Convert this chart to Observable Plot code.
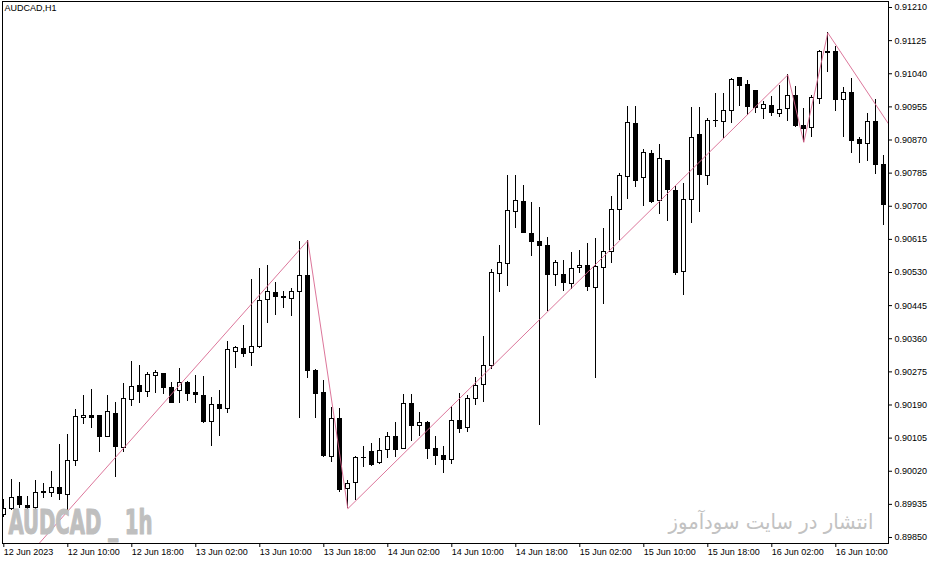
<!DOCTYPE html>
<html>
<head>
<meta charset="utf-8">
<script src="https://cdn.jsdelivr.net/npm/d3@7"></script>
<script src="https://cdn.jsdelivr.net/npm/@observablehq/plot@0.6"></script>
<style>
  html, body { margin: 0; padding: 0; background: #fff; }
  #chart { width: 935px; height: 563px; }
</style>
</head>
<body>
<div id="chart"></div>
<script>
// AUDCAD H1, bars from 12 Jun 2023 02:00 (bar 0) onward
const open = [
  0.89909, 0.89924, 0.89953, 0.89932, 0.89926, 0.89968, 0.89964, 0.89978, 0.89959, 0.90046,
  0.90156, 0.90163, 0.90161, 0.90107, 0.90168, 0.90080, 0.90203, 0.90238, 0.90223, 0.90264,
  0.90270, 0.90234, 0.90226, 0.90247, 0.90221, 0.90214, 0.90147, 0.90189, 0.90180, 0.90327,
  0.90334, 0.90324, 0.90339, 0.90460, 0.90478, 0.90468, 0.90462, 0.90479, 0.90522, 0.90276,
  0.90220, 0.90057, 0.90153, 0.89975, 0.89990, 0.90055, 0.90070, 0.90041, 0.90075, 0.90107,
  0.90078, 0.90193, 0.90137, 0.90144, 0.90078, 0.90060, 0.90049, 0.90148, 0.90132, 0.90206,
  0.90242, 0.90290, 0.90527, 0.90552, 0.90685, 0.90711, 0.90629, 0.90607, 0.90599, 0.90524,
  0.90524, 0.90501, 0.90542, 0.90547, 0.90491, 0.90542, 0.90583, 0.90691, 0.90775, 0.90912,
  0.90773, 0.90835, 0.90714, 0.90815, 0.90740, 0.90531, 0.90717, 0.90883, 0.90778, 0.90919,
  0.90917, 0.90945, 0.91028, 0.91012, 0.90996, 0.90950, 0.90956, 0.90936, 0.90950, 0.90982,
  0.90905, 0.90901, 0.90976, 0.91097, 0.91097, 0.90972, 0.90991, 0.90871, 0.90860, 0.90917,
  0.90806
];
const high = [
  0.89947, 0.89998, 0.89990, 0.89956, 0.89996, 0.89988, 0.90019, 0.90089, 0.90114, 0.90178,
  0.90214, 0.90230, 0.90161, 0.90214, 0.90196, 0.90246, 0.90302, 0.90291, 0.90273, 0.90279,
  0.90272, 0.90247, 0.90284, 0.90250, 0.90266, 0.90263, 0.90209, 0.90227, 0.90353, 0.90340,
  0.90394, 0.90512, 0.90540, 0.90548, 0.90504, 0.90482, 0.90489, 0.90610, 0.90612, 0.90280,
  0.90253, 0.90184, 0.90182, 0.89996, 0.90057, 0.90084, 0.90090, 0.90103, 0.90119, 0.90145,
  0.90218, 0.90218, 0.90170, 0.90148, 0.90108, 0.90084, 0.90186, 0.90219, 0.90214, 0.90260,
  0.90366, 0.90538, 0.90599, 0.90779, 0.90779, 0.90753, 0.90709, 0.90696, 0.90619, 0.90561,
  0.90561, 0.90581, 0.90587, 0.90604, 0.90617, 0.90642, 0.90725, 0.90784, 0.90956, 0.90956,
  0.90846, 0.90843, 0.90858, 0.90817, 0.90751, 0.90758, 0.90953, 0.90953, 0.90924, 0.90990,
  0.90990, 0.91028, 0.91030, 0.91023, 0.90997, 0.90969, 0.90982, 0.91010, 0.91037, 0.91007,
  0.90950, 0.90984, 0.91100, 0.91145, 0.91111, 0.91004, 0.91027, 0.90876, 0.90937, 0.90974,
  0.90830
];
const low = [
  0.89901, 0.89919, 0.89924, 0.89919, 0.89919, 0.89949, 0.89953, 0.89945, 0.89919, 0.90032,
  0.90140, 0.90130, 0.90069, 0.90107, 0.90005, 0.90069, 0.90187, 0.90193, 0.90209, 0.90220,
  0.90217, 0.90195, 0.90193, 0.90200, 0.90193, 0.90142, 0.90084, 0.90110, 0.90169, 0.90284,
  0.90313, 0.90290, 0.90336, 0.90400, 0.90420, 0.90437, 0.90418, 0.90156, 0.90257, 0.90155,
  0.90054, 0.90043, 0.89966, 0.89924, 0.89945, 0.90029, 0.90033, 0.90037, 0.90052, 0.90056,
  0.90078, 0.90097, 0.90109, 0.90049, 0.90036, 0.90014, 0.90037, 0.90118, 0.90120, 0.90189,
  0.90197, 0.90281, 0.90479, 0.90495, 0.90642, 0.90629, 0.90572, 0.90137, 0.90430, 0.90494,
  0.90481, 0.90486, 0.90528, 0.90482, 0.90259, 0.90448, 0.90554, 0.90612, 0.90717, 0.90749,
  0.90699, 0.90708, 0.90678, 0.90662, 0.90522, 0.90471, 0.90657, 0.90685, 0.90753, 0.90901,
  0.90873, 0.90912, 0.90956, 0.90933, 0.90937, 0.90922, 0.90931, 0.90929, 0.90918, 0.90903,
  0.90864, 0.90877, 0.90961, 0.91044, 0.90944, 0.90877, 0.90836, 0.90809, 0.90815, 0.90781,
  0.90651
];
const close = [
  0.89924, 0.89952, 0.89934, 0.89926, 0.89965, 0.89964, 0.89978, 0.89961, 0.90047, 0.90158,
  0.90162, 0.90157, 0.90107, 0.90171, 0.90082, 0.90206, 0.90237, 0.90223, 0.90267, 0.90273,
  0.90233, 0.90195, 0.90247, 0.90219, 0.90215, 0.90146, 0.90189, 0.90180, 0.90330, 0.90335,
  0.90320, 0.90339, 0.90457, 0.90480, 0.90468, 0.90465, 0.90480, 0.90522, 0.90277, 0.90218,
  0.90059, 0.90155, 0.89973, 0.89988, 0.90055, 0.90054, 0.90036, 0.90072, 0.90107, 0.90075,
  0.90193, 0.90136, 0.90144, 0.90078, 0.90060, 0.90049, 0.90150, 0.90128, 0.90206, 0.90239,
  0.90291, 0.90529, 0.90555, 0.90688, 0.90714, 0.90631, 0.90608, 0.90598, 0.90523, 0.90555,
  0.90504, 0.90538, 0.90547, 0.90492, 0.90545, 0.90583, 0.90691, 0.90778, 0.90914, 0.90764,
  0.90837, 0.90710, 0.90822, 0.90741, 0.90528, 0.90717, 0.90876, 0.90781, 0.90919, 0.90918,
  0.90944, 0.91024, 0.91008, 0.90954, 0.90953, 0.90959, 0.90939, 0.90948, 0.90983, 0.90905,
  0.90898, 0.90977, 0.91097, 0.91094, 0.90972, 0.90991, 0.90867, 0.90859, 0.90916, 0.90805,
  0.90704
];

// zigzag pivots (bar index, price); first and last lie outside the window
const zzBar = [-4, 38, 43, 98, 100, 103, 112];
const zzPrice = [0.89640, 0.90612, 0.89924, 0.91037, 0.90864, 0.91145, 0.90868];

const tickBars = [0, 8, 16, 24, 32, 40, 48, 56, 64, 72, 80, 88, 96, 104];
const tickLabels = [
  "12 Jun 2023", "12 Jun 10:00", "12 Jun 18:00", "13 Jun 02:00", "13 Jun 10:00",
  "13 Jun 18:00", "14 Jun 02:00", "14 Jun 10:00", "14 Jun 18:00", "15 Jun 02:00",
  "15 Jun 10:00", "15 Jun 18:00", "16 Jun 02:00", "16 Jun 10:00"
];
const priceTicks = [
  0.89850, 0.89935, 0.90020, 0.90105, 0.90190, 0.90275, 0.90360, 0.90445, 0.90530,
  0.90615, 0.90700, 0.90785, 0.90870, 0.90955, 0.91040, 0.91125, 0.91210
];

const candles = open.map((o, i) => ({i, open: o, high: high[i], low: low[i], close: close[i]}));
const bulls = candles.filter(d => d.close >= d.open);
const bears = candles.filter(d => d.close < d.open);
const zigzag = zzBar.map((b, k) => ({i: b, price: zzPrice[k]}));

const chart = Plot.plot({
  width: 935,
  height: 563,
  marginLeft: 2,
  marginRight: 47,
  marginTop: 1,
  marginBottom: 20,
  style: {fontFamily: "'Liberation Sans', Arial, sans-serif", fontSize: "9px", background: "#fff", color: "#000"},
  x: {domain: [-0.1625, 110.5875]},
  y: {domain: [0.898346, 0.912254]},
  marks: [
    Plot.ruleX(candles, {x: "i", y1: "low", y2: "high", stroke: "#000", strokeWidth: 1, clip: true, shapeRendering: "crispEdges"}),
    Plot.rect(bulls, {x1: d => d.i - 0.27, x2: d => d.i + 0.27, y1: "open", y2: "close", fill: "#fff", stroke: "#000", clip: true, shapeRendering: "crispEdges"}),
    Plot.rect(bears, {x1: d => d.i - 0.27, x2: d => d.i + 0.27, y1: "open", y2: "close", fill: "#000", stroke: "#000", clip: true, shapeRendering: "crispEdges"}),
    Plot.line(zigzag, {x: "i", y: "price", stroke: "#d8668e", strokeWidth: 0.9, clip: true}),
    Plot.frame({stroke: "#000", shapeRendering: "crispEdges"}),
    Plot.axisY({anchor: "right", ticks: priceTicks, tickFormat: d3.format(".5f"), tickSize: 3, tickPadding: 3, label: null}),
    Plot.axisX({ticks: tickBars, tickFormat: d => tickLabels[tickBars.indexOf(d)], textAnchor: "start", tickSize: 4, tickPadding: 1, label: null}),
    Plot.text(["AUDCAD,H1"], {frameAnchor: "top-left", text: d => d, dx: 2, dy: 3, fill: "#000", fontSize: 9}),
    Plot.text(["AUDCAD _ 1h"], {frameAnchor: "bottom-left", text: d => d, textAnchor: "start", lineAnchor: "middle", dx: 6, dy: -20, fill: "#bfbfbf", stroke: "#bfbfbf", strokeWidth: 1.2, fontSize: 33, fontWeight: "bold", fontFamily: "'Liberation Sans Narrow', 'DejaVu Sans Condensed', sans-serif"}),
    Plot.text(["انتشار در سایت سودآموز"], {frameAnchor: "bottom-right", text: d => d, textAnchor: "end", lineAnchor: "middle", dx: -15, dy: -21, fill: "#c2c2c2", fontSize: 21, fontFamily: "'DejaVu Sans', sans-serif"})
  ]
});

const svg = d3.select(chart);
svg.selectAll("text").filter(function () { return this.textContent === "AUDCAD _ 1h"; })
  .attr("textLength", 144).attr("lengthAdjust", "spacingAndGlyphs");
svg.selectAll("text").filter(function () { return this.textContent === "انتشار در سایت سودآموز"; })
  .attr("textLength", 205).attr("lengthAdjust", "spacingAndGlyphs");

d3.select("#chart").append(() => chart);
</script>
</body>
</html>
